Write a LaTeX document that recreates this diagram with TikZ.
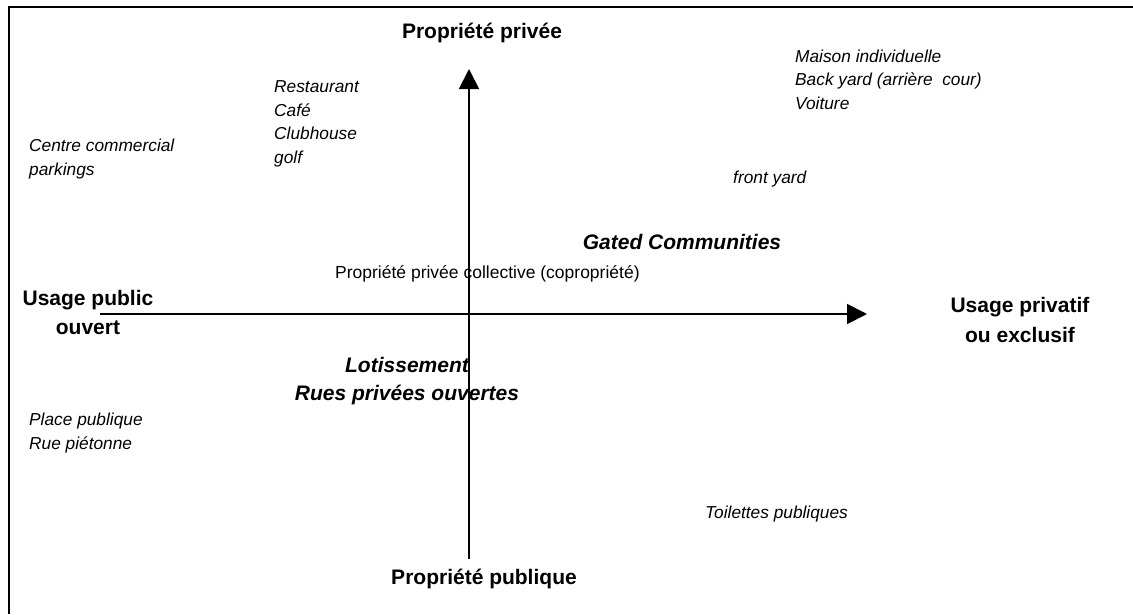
\documentclass[tikz,border=0pt]{standalone}
\usepackage{fontspec}
\setmainfont{Liberation Sans}
\usepackage{tikz}
\usetikzlibrary{arrows.meta}

\begin{document}
\begin{tikzpicture}[x=1pt,y=-1pt,
  axe/.style={line width=1.8pt, -{Triangle[length=20pt,width=20pt]}},
  titre/.style={font=\fontsize{21}{29}\selectfont\bfseries, align=center, anchor=base, inner sep=0},
  titreit/.style={titre, font=\fontsize{21}{28}\selectfont\bfseries\itshape},
  ex/.style={font=\fontsize{17.3}{23.5}\selectfont\itshape, align=left, anchor=base west, inner sep=0}]
\useasboundingbox (0,0) rectangle (1133,614);
\draw[line width=2pt] (1133,7) -- (9,7) -- (9,614);
% axes
\coordinate (Sud) at (469,559); \coordinate (Nord) at (469,69);
\coordinate (Ouest) at (100,314); \coordinate (Est) at (867,314);
\draw[axe] (Sud) -- (Nord);
\draw[axe] (Ouest) -- (Est);
% poles (base = derniere ligne)
\node[titre] (Priv) at (482,38) {Propriété privée};
\node[titre] (Publ) at (484,584) {Propriété publique};
\node[titre] (UsPub) at (88,334) {Usage public\\ouvert};
\node[titre, font=\fontsize{21}{30}\selectfont\bfseries] (UsPriv) at (1020,342) {Usage privatif\\ou exclusif};
% exemples
\node[ex] (Resto) at (274,163) {Restaurant\\Café\\Clubhouse\\golf};
\node[ex] (Centre) at (29,175) {Centre commercial\\parkings};
\node[ex] (Maison) at (795,109) {Maison individuelle\\Back yard (arrière\ \ cour)\\Voiture};
\node[ex] (Front) at (733,183) {front yard};
\node[ex] (Place) at (29,449) {Place publique\\Rue piétonne};
\node[ex] (Toil) at (705,518) {Toilettes publiques};
\node[ex, font=\fontsize{17.5}{23.5}\selectfont] (Copro) at (335,278) {Propriété privée collective (copropriété)};
\node[titreit] (Gated) at (682,249) {Gated Communities};
\node[titreit] (Lotis) at (407,400) {Lotissement\\Rues privées ouvertes};
\end{tikzpicture}
\end{document}
